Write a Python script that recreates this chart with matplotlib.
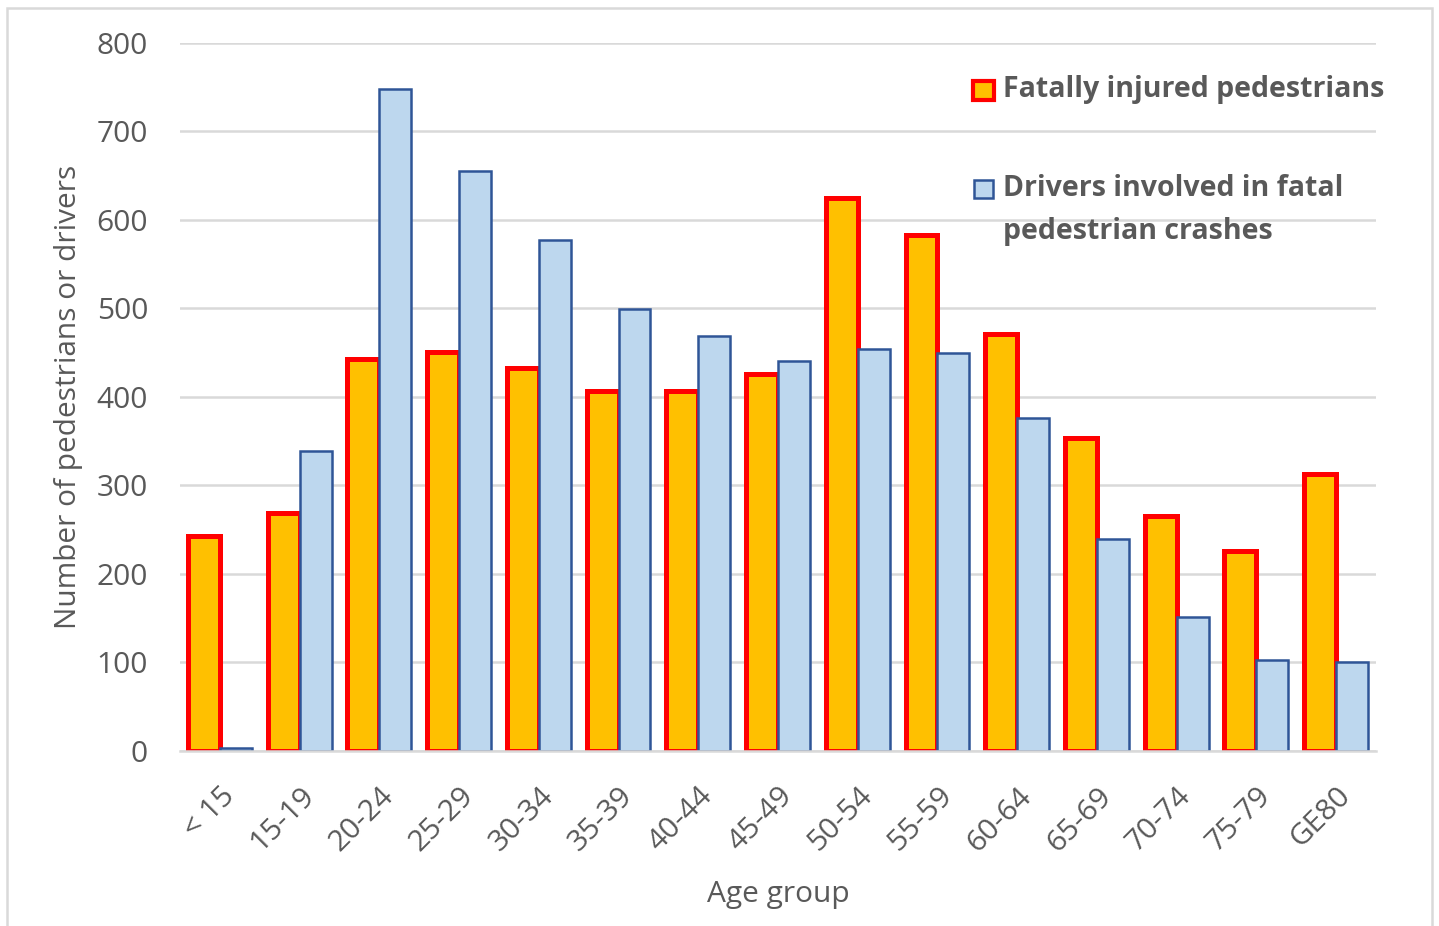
import matplotlib

matplotlib.use("Agg")
import matplotlib.pyplot as plt  # noqa: E402
import numpy as np  # noqa: E402
from matplotlib.patches import Rectangle  # noqa: E402

# Fatal pedestrian crashes by age group
age_groups = ["< 15", "15-19", "20-24", "25-29", "30-34", "35-39", "40-44", "45-49",
              "50-54", "55-59", "60-64", "65-69", "70-74", "75-79", "GE80"]
pedestrians = [243, 269, 443, 451, 433, 407, 407, 426, 625, 583, 471, 354, 266, 226, 313]
drivers = [3, 339, 748, 655, 577, 499, 469, 441, 454, 450, 376, 240, 151, 103, 101]

ped_label = "Fatally injured pedestrians"
drv_label = "Drivers involved in fatal\npedestrian crashes"

TEXT = "#595959"
GRID = "#d9d9d9"
FS = 21.5
FS_LEG = 20.5
plt.rcParams["font.family"] = ["Open Sans", "DejaVu Sans"]

fig = plt.figure(figsize=(14.39, 9.26), dpi=100)
ax = fig.add_axes([0.1251, 0.189, 0.8311, 0.7646])

x = np.arange(len(age_groups))
w = 0.4
ax.bar(x - w / 2, pedestrians, width=w, color="#FFC000", edgecolor="#FF0000",
       linewidth=3.6, zorder=3)
ax.bar(x + w / 2, drivers, width=w, color="#BDD7EE", edgecolor="#2F5597",
       linewidth=1.8, zorder=3)

ax.set_xlim(-0.5, len(age_groups) - 0.5)
ax.set_ylim(0, 800)
ax.set_yticks(range(0, 801, 100))
ax.yaxis.grid(True, color=GRID, linewidth=1.8, zorder=0)
ax.set_axisbelow(True)
for side in ["top", "right", "left"]:
    ax.spines[side].set_visible(False)
ax.spines["bottom"].set_color(GRID)
ax.spines["bottom"].set_linewidth(1.8)
ax.spines["bottom"].set_zorder(4)

ax.set_xticks(x)
ax.set_xticklabels(age_groups, rotation=45, ha="right", rotation_mode="anchor")
ax.tick_params(axis="x", length=0, pad=22, labelsize=FS, labelcolor=TEXT)
ax.tick_params(axis="y", length=0, pad=23, labelsize=FS, labelcolor=TEXT)

ax.set_xlabel("Age group", fontsize=FS, color=TEXT, labelpad=16)
ax.set_ylabel("Number of pedestrians or drivers", fontsize=FS, color=TEXT, labelpad=10)

# legend entries laid out by hand, swatch beside the first text line
fig.patches.append(Rectangle((973 / 1439, 1 - 100 / 926), 21 / 1439, 19 / 926,
                             transform=fig.transFigure, facecolor="#FFC000",
                             edgecolor="#FF0000", linewidth=3.0))
fig.patches.append(Rectangle((974 / 1439, 1 - 198 / 926), 19 / 1439, 18 / 926,
                             transform=fig.transFigure, facecolor="#BDD7EE",
                             edgecolor="#2F5597", linewidth=1.8))
fig.text(1003 / 1439, 1 - 89 / 926, ped_label, fontsize=FS_LEG, fontweight="bold",
         color=TEXT, va="center", ha="left")
fig.text(1003 / 1439, 1 - 189 / 926, drv_label.split("\n")[0], fontsize=FS_LEG,
         fontweight="bold", color=TEXT, va="center", ha="left")
fig.text(1003 / 1439, 1 - 231 / 926, drv_label.split("\n")[1], fontsize=FS_LEG,
         fontweight="bold", color=TEXT, va="center", ha="left")

# outer chart frame
fig.patches.append(Rectangle((7 / 1439, -0.05), 1425 / 1439, 1.05 - 8 / 926,
                             transform=fig.transFigure, facecolor="none",
                             edgecolor=GRID, linewidth=1.8))

fig.savefig("out.png", dpi=100)
